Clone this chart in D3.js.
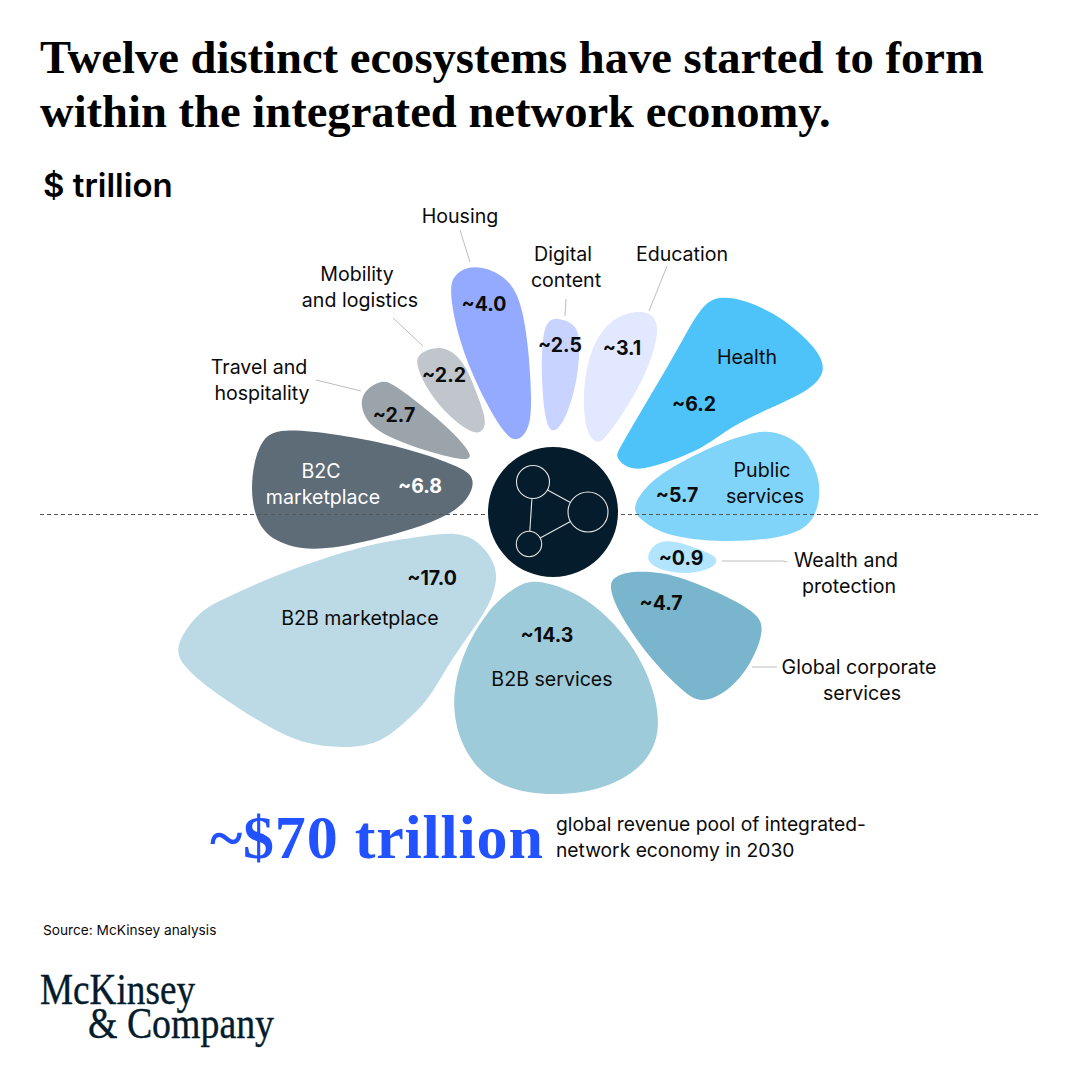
<!DOCTYPE html>
<html><head><meta charset="utf-8">
<script src="https://cdn.jsdelivr.net/npm/d3@7"></script>
<style>
html,body{margin:0;padding:0;background:#fff}
svg{display:block}
.lab{font-family:Inter,sans-serif;font-size:19.6px;fill:#0b0b0b;text-anchor:middle}
.val{font-family:Inter,sans-serif;font-size:19.5px;font-weight:700;fill:#0b0b0b;text-anchor:middle}
</style></head><body>
<svg id="c" width="1080" height="1080"></svg>
<script>
const categories = ["Housing","Digital content","Education","Health","Public services","Wealth and protection","Global corporate services","B2B services","B2B marketplace","B2C marketplace","Travel and hospitality","Mobility and logistics"];
const values = [4.0,2.5,3.1,6.2,5.7,0.9,4.7,14.3,17.0,6.8,2.7,2.2];
const labelLines = [["Housing"],["Digital","content"],["Education"],["Health"],["Public","services"],["Wealth and","protection"],["Global corporate","services"],["B2B services"],["B2B marketplace"],["B2C","marketplace"],["Travel and","hospitality"],["Mobility","and logistics"]];
const titleLines = ["Twelve distinct ecosystems have started to form","within the integrated network economy."];

// Petal outlines, as offsets from the hub centre
const shapeHousing = [[-78,-245],[-50,-235],[-33,-209],[-25,-162],[-22,-112],[-25,-85],[-36,-73],[-50,-82],[-73,-122],[-93,-172],[-102,-219],[-96,-237]];
const shapeDigital = [[5,-193],[20,-187],[26,-172],[24,-135],[14,-99],[2,-82],[-7,-92],[-11,-135],[-10,-172],[-5,-189]];
const shapeEducation = [[87,-200],[100,-194],[104,-179],[95,-145],[72,-102],[52,-75],[44,-71],[34,-82],[31,-119],[39,-162],[60,-192]];
const shapeHealth = [[169,-214],[197,-209],[230,-192],[260,-165],[270,-142],[254,-122],[217,-104],[177,-84],[150,-65],[110,-49],[80,-43],[65,-55],[70,-69],[99,-119],[126,-165],[149,-204]];
const shapePublic = [[220,-80],[247,-67],[262,-42],[266,-19],[257,11],[224,25],[170,29],[117,23],[90,8],[82,-5],[94,-25],[120,-45],[164,-67],[194,-77]];
const shapeWealth = [[95,45],[102,33],[117,29],[140,35],[159,43],[163,49],[157,56],[137,61],[114,59],[100,53]];
const shapeGlobal = [[80,60],[107,61],[134,68],[174,85],[200,101],[209,118],[197,151],[174,178],[149,188],[130,178],[97,145],[67,101],[58,75],[64,65]];
const shapeServices = [[-13,70],[34,88],[74,128],[97,171],[105,215],[90,251],[50,275],[0,282],[-50,273],[-83,245],[-99,198],[-90,145],[-63,98],[-36,76]];
const shapeMarket = [[-96,22],[-73,33],[-56,61],[-66,95],[-83,121],[-106,155],[-126,188],[-150,211],[-176,230],[-210,235],[-250,230],[-283,215],[-316,195],[-350,171],[-368,153],[-375,133],[-353,101],[-326,86],[-283,66],[-233,48],[-183,33],[-133,25]];
const shapeB2C = [[-263,-81],[-216,-77],[-150,-64],[-96,-45],[-81,-29],[-103,3],[-183,28],[-240,37],[-276,28],[-295,8],[-301,-29],[-290,-72]];
const shapeTravel = [[-171,-130],[-160,-127],[-136,-110],[-103,-82],[-84,-59],[-93,-53],[-143,-67],[-180,-85],[-191,-107],[-186,-122]];
const shapeMobility = [[-115,-164],[-100,-159],[-86,-142],[-73,-109],[-68,-89],[-76,-79],[-96,-90],[-120,-115],[-136,-147],[-130,-159]];
const shapes = [shapeHousing,shapeDigital,shapeEducation,shapeHealth,shapePublic,shapeWealth,shapeGlobal,shapeServices,shapeMarket,shapeB2C,shapeTravel,shapeMobility];

const colors = ["#93aaff","#c8d4ff","#e2e8ff","#4dc3f9","#80d4fa","#b3e4fd","#79b6cd","#9ecbda","#bcdae6","#5e6c78","#9ba4ab","#c0c6cb"];
const textColors = ["#0b0b0b","#0b0b0b","#0b0b0b","#0b0b0b","#0b0b0b","#0b0b0b","#0b0b0b","#0b0b0b","#0b0b0b","#ffffff","#0b0b0b","#0b0b0b"];
const labelAnchors = [[[460,223]],[[563,261],[566,287]],[[682,261]],[[747,364]],[[762,477],[765,503]],[[846,567],[849,593]],[[859,674],[862,700]],[[552,686]],[[360,625]],[[321,478],[323,504]],[[259,374],[262,400]],[[357,281],[360,307]]];
const valueAnchors = [[484,311],[560,352],[622,355],[694,411],[677,502],[681,565],[661,610],[547,642],[432,585],[420,493],[394,422],[444,382]];
const leaders = [[[460,230],[470,262]],[[566,299],[565,316]],[[667,266],[649,311]],null,null,[[722,561],[783,561],[787,562]],[[752,667],[777,667]],null,null,null,[[316,380],[361,391]],[[393,318],[423,346]]];
const hubNodes = [[-20,-30,16.5],[35,0,20],[-24,32,12.7]];
const hubLinks = [[0,1],[1,2],[2,0]];

const hubX = 553, hubY = 512, hubR = 65;
const x = d3.scaleLinear().domain([-100,100]).range([hubX-100,hubX+100]);
const y = d3.scaleLinear().domain([-100,100]).range([hubY-100,hubY+100]);
const svg = d3.select("#c");

const serif = '"Liberation Serif",serif';
svg.selectAll(".t").data(titleLines).join("text").attr("class","t")
  .attr("x",40).attr("y",(d,i)=>73+i*54).attr("font-family",serif).attr("font-weight",700)
  .attr("font-size",46.6).attr("fill","#000").text(d=>d);
svg.append("text").attr("x",43).attr("y",197).attr("font-family","Inter,sans-serif").attr("font-weight",600)
  .attr("font-size",33).attr("fill","#000").text("$ trillion");

// Control points are pushed outward so that the closed B-spline stays on the traced outline
const tighten = pts => pts.map((p,i)=>{
  const a=pts[(i+pts.length-1)%pts.length], b=pts[(i+1)%pts.length], k=0.33;
  return [p[0]+k*(p[0]-(a[0]+b[0])/2), p[1]+k*(p[1]-(a[1]+b[1])/2)];
});
const petal = d3.line().x(d=>x(d[0])).y(d=>y(d[1])).curve(d3.curveBasisClosed);
svg.append("g").selectAll("path").data(categories).join("path")
  .attr("d",(d,i)=>petal(tighten(shapes[i]))).attr("fill",(d,i)=>colors[i]);

svg.append("line").attr("x1",40).attr("x2",1040).attr("y1",514.5).attr("y2",514.5)
  .attr("stroke","#555").attr("stroke-width",1).attr("stroke-dasharray","4 3");

svg.append("circle").attr("cx",x(0)).attr("cy",y(0)).attr("r",hubR).attr("fill","#051c2c");
svg.append("g").selectAll("line").data(hubLinks).join("line").each(function([a,b]){
  const A=hubNodes[a],B=hubNodes[b],dx=B[0]-A[0],dy=B[1]-A[1],L=Math.hypot(dx,dy);
  d3.select(this).attr("x1",x(A[0]+dx/L*A[2])).attr("y1",y(A[1]+dy/L*A[2]))
    .attr("x2",x(B[0]-dx/L*B[2])).attr("y2",y(B[1]-dy/L*B[2]));
}).attr("stroke","#e6e6e6").attr("stroke-width",1.1);
svg.append("g").selectAll("circle").data(hubNodes).join("circle")
  .attr("cx",d=>x(d[0])).attr("cy",d=>y(d[1])).attr("r",d=>d[2])
  .attr("fill","none").attr("stroke","#e6e6e6").attr("stroke-width",1.1);

const lead = d3.line();
svg.append("g").selectAll("path").data(leaders.filter(Boolean)).join("path")
  .attr("d",d=>lead(d)).attr("fill","none").attr("stroke","#bdbdbd").attr("stroke-width",1);

const fmt = d3.format(".1f");
categories.forEach((c,i)=>{
  labelLines[i].forEach((t,j)=>{
    svg.append("text").attr("class","lab").attr("x",labelAnchors[i][j][0]).attr("y",labelAnchors[i][j][1])
      .style("fill",textColors[i]).text(t);
  });
  svg.append("text").attr("class","val").attr("x",valueAnchors[i][0]).attr("y",valueAnchors[i][1])
    .style("fill",textColors[i]).text("~"+fmt(values[i]));
});

svg.append("text").attr("x",210).attr("y",858).attr("font-family",serif).attr("font-weight",700)
  .attr("font-size",62).attr("letter-spacing",0.8).attr("fill","#2251ff").text("~$70 trillion");
["global revenue pool of integrated-","network economy in 2030"].forEach((t,i)=>{
  svg.append("text").attr("x",556).attr("y",831+i*26).attr("font-family","Inter,sans-serif")
    .attr("font-size",19.25).attr("fill","#0b0b0b").text(t);
});
svg.append("text").attr("x",43).attr("y",935).attr("font-family","Inter,sans-serif")
  .attr("font-size",13.7).attr("fill","#0b0b0b").text("Source: McKinsey analysis");
[["McKinsey",40,1004,155],["& Company",88,1038,186]].forEach(([t,lx,ly,w])=>{
  svg.append("text").attr("x",lx).attr("y",ly).attr("font-family",serif).attr("font-size",44)
    .attr("textLength",w).attr("lengthAdjust","spacingAndGlyphs").attr("fill","#051c2c")
    .attr("stroke","#051c2c").attr("stroke-width",0.4).text(t);
});
</script>
</body></html>
